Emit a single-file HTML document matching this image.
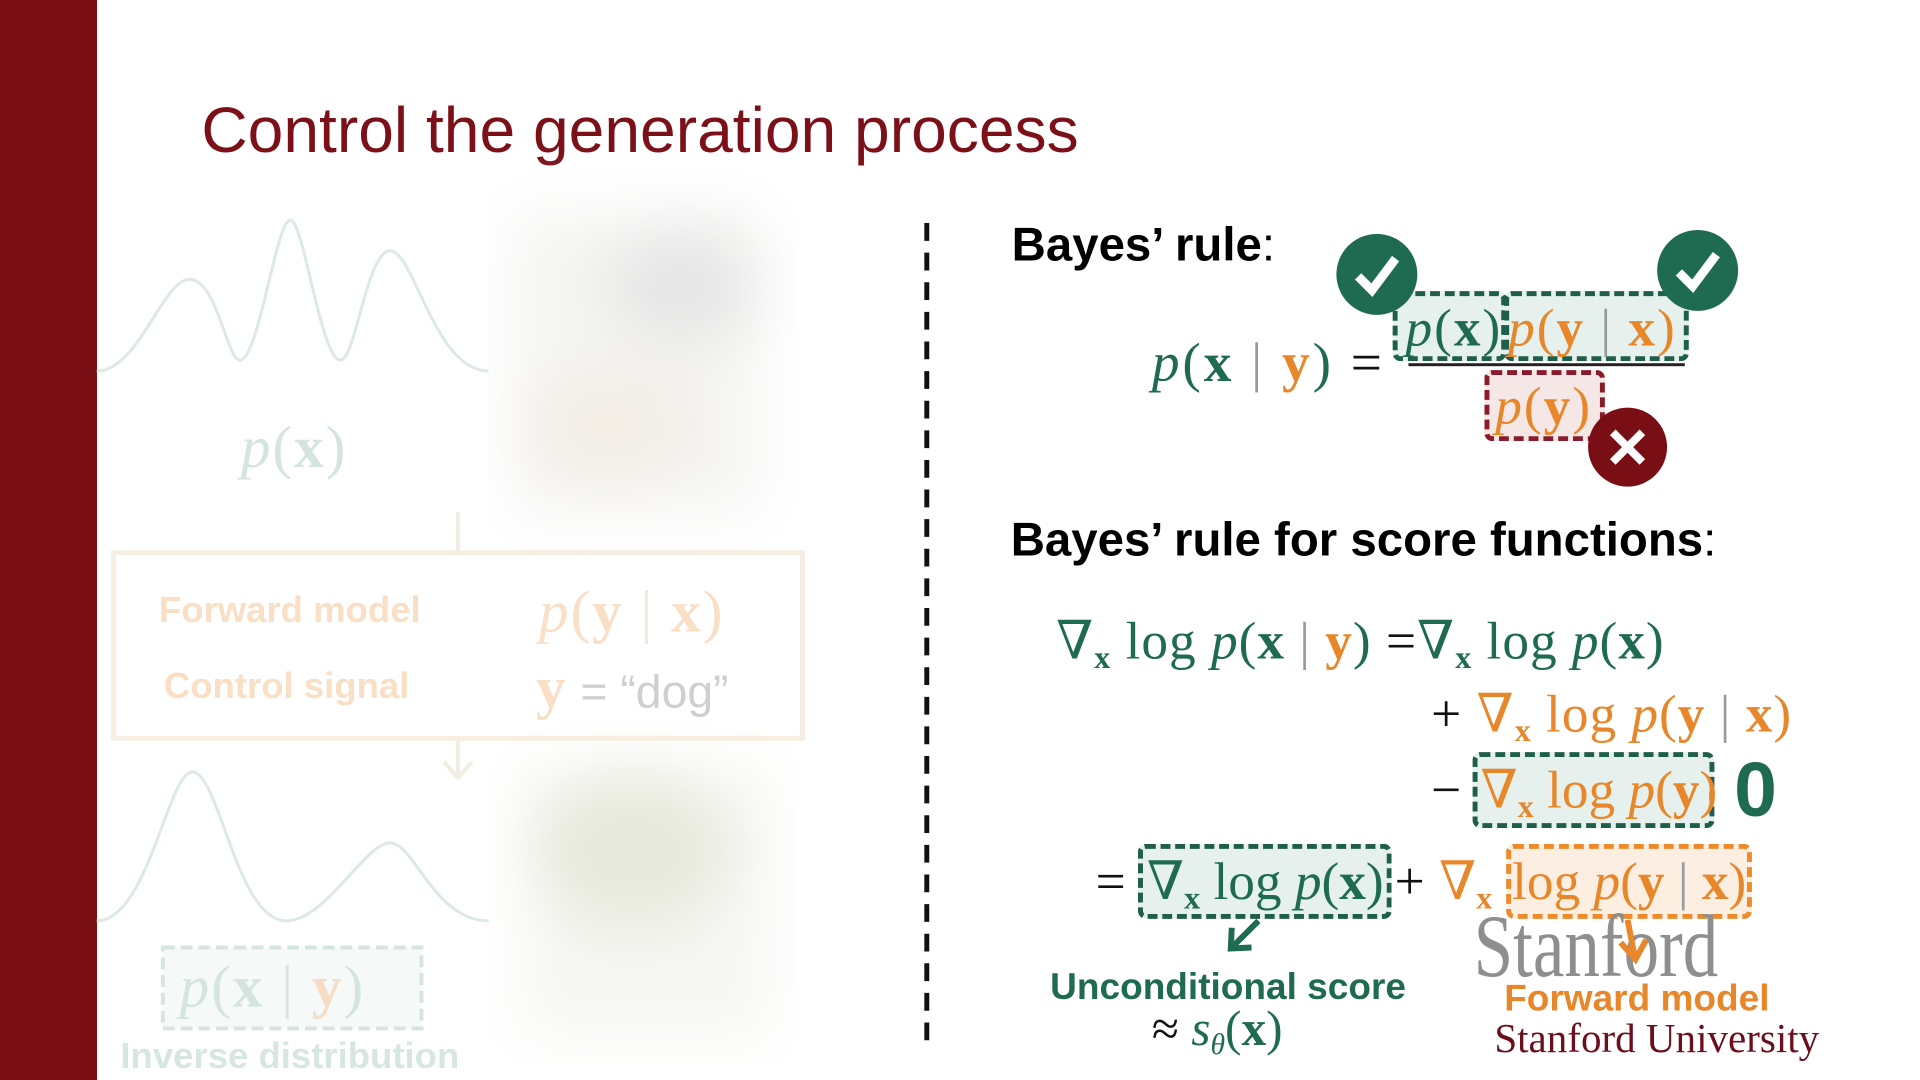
<!DOCTYPE html>
<html><head><meta charset="utf-8"><style>
html,body{margin:0;padding:0}
body{width:1920px;height:1080px;position:relative;background:#fff;overflow:hidden;font-family:"Liberation Sans",sans-serif}
#w{position:absolute;left:0;top:0;width:1920px;height:1080px;transform:scale(0.987);transform-origin:0 0}
.a{position:absolute;white-space:nowrap}
.m{font-family:"Liberation Serif","DejaVu Serif",serif;font-size:54px;line-height:60px}
.i{font-style:italic}
.b{font-weight:bold;font-style:normal}
.g{color:#1f6b52}.o{color:#e8862a}.k{color:#111}
sub{font-size:0.6em;font-weight:bold;vertical-align:-0.3em;line-height:0}
.box{position:absolute;box-sizing:border-box;border-radius:8px}
.gb{border:5px dashed #1f5e4a;background:#e6f0ec}
.ob{border:5px dashed #ee8a2a;background:#fcefe2}
.rb{border:5px dashed #8b1a2b;background:#f6e7e7}
.bar{color:#999;font-weight:normal}
</style></head><body>
<div class="a" style="left:0;top:0;width:97px;height:1080px;background:#7a0e15"></div>
<div id="w">
<div class="a" style="left:204px;top:97px;font-size:65px;color:#7b1018;line-height:70px">Control the generation process</div>

<!-- left faded -->
<svg class="a" style="left:0;top:0" width="940" height="1080">
<defs><filter id="bl"><feGaussianBlur stdDeviation="30"/></filter></defs>
<g filter="url(#bl)">
<rect x="520" y="215" width="250" height="305" fill="#f5f5f3"/>
<ellipse cx="690" cy="290" rx="80" ry="60" fill="#e6e6e6"/>
<ellipse cx="620" cy="430" rx="90" ry="55" fill="#f2ede5"/>
<rect x="530" y="780" width="250" height="270" fill="#f6f6f3"/>
<ellipse cx="640" cy="860" rx="100" ry="80" fill="#e7e9dc"/>
</g>
<path d="M98,376 C140,376 165,283 192,283 C220,283 230,365 243,365 C262,365 280,223 294,223 C308,223 325,365 345,365 C360,365 372,254 395,254 C420,254 440,376 495,376" fill="none" stroke="#dce9e4" stroke-width="3"/>
<path d="M98,933 C150,933 170,782 195,782 C222,782 240,933 290,933 C330,933 370,854 395,854 C420,854 440,933 495,933" fill="none" stroke="#dce9e4" stroke-width="3"/>
<line x1="464" y1="519" x2="464" y2="560" stroke="#f1ede0" stroke-width="4"/>
<line x1="464" y1="748" x2="464" y2="785" stroke="#f1ede0" stroke-width="4"/>
<path d="M450,772 L464,788 L478,772" fill="none" stroke="#f1ede0" stroke-width="4"/>
<rect x="115" y="560" width="698" height="188" fill="none" stroke="#f6efe1" stroke-width="5"/>
<rect x="165" y="960" width="262" height="82" fill="#f5f9f8" stroke="#d7e5df" stroke-width="4" stroke-dasharray="12,6"/>
</svg>
<div class="a" style="left:161px;top:597px;font-size:37px;font-weight:bold;color:#f8dfc5;line-height:42px">Forward model</div>
<div class="a" style="left:166px;top:674px;font-size:37px;font-weight:bold;color:#f8dfc5;line-height:42px">Control signal</div>
<div class="a m" style="left:546px;top:588px;font-size:60px;line-height:64px;color:#f8dfc5;letter-spacing:2px"><span class="i">p</span>(<span class="b">y</span> <span style="color:#f3e8dc">|</span> <span class="b">x</span>)</div>
<div class="a m" style="left:543px;top:665px;font-size:60px;line-height:64px;color:#f8dfc5"><span class="b">y</span> <span style="font-family:'Liberation Sans';font-size:47px;color:#cfcfcf">= “dog”</span></div>
<div class="a m" style="left:244px;top:421px;font-size:60px;line-height:64px;color:#d4e4de;letter-spacing:2px"><span class="i">p</span>(<span class="b">x</span>)</div>
<div class="a m" style="left:182px;top:968px;font-size:60px;line-height:64px;color:#d4e4de;letter-spacing:2px"><span class="i">p</span>(<span class="b">x</span> | <span class="b" style="color:#f5dcc4">y</span>)</div>
<div class="a" style="left:122px;top:1049px;font-size:37px;font-weight:bold;color:#d6e6e0;line-height:42px">Inverse distribution</div>

<!-- divider -->
<svg class="a" style="left:0;top:0" width="1920" height="1080">
<line x1="939" y1="226" x2="939" y2="1062" stroke="#111" stroke-width="5" stroke-dasharray="18,12"/>
</svg>

<!-- Bayes rule -->
<div class="a" style="left:1025px;top:222px;font-size:48px;font-weight:bold;color:#000;line-height:54px">Bayes’ rule<span style="font-weight:normal">:</span></div>
<div class="a m" style="left:1167px;top:338px;font-size:56px;letter-spacing:3px"><span class="g"><span class="i">p</span>(<span class="b">x</span> <span class="bar">|</span> <span class="b o">y</span>)</span> <span class="k">=</span></div>
<div class="box gb" style="left:1411px;top:295px;width:115px;height:71px"></div>
<div class="box gb" style="left:1524px;top:295px;width:187px;height:71px"></div>
<div class="a m g" style="left:1424px;top:302px;letter-spacing:2px"><span class="i">p</span>(<span class="b">x</span>)</div>
<div class="a m o" style="left:1528px;top:302px;letter-spacing:2px"><span class="i">p</span>(<span class="b">y</span> <span class="bar">|</span> <span class="b">x</span>)</div>
<div class="a" style="left:1427px;top:368px;width:280px;height:3px;background:#222"></div>
<div class="box rb" style="left:1504px;top:375px;width:122px;height:72px"></div>
<div class="a m o" style="left:1515px;top:381px;letter-spacing:2px"><span class="i">p</span>(<span class="b">y</span>)</div>
<svg class="a" style="left:0;top:0" width="1920" height="1080">
<circle cx="1395" cy="278" r="41" fill="#1f6b52"/>
<path d="M1376,280 L1390,294 L1414,262" fill="none" stroke="#fff" stroke-width="9"/>
<circle cx="1720" cy="274" r="41" fill="#1f6b52"/>
<path d="M1701,276 L1715,290 L1739,258" fill="none" stroke="#fff" stroke-width="9"/>
<circle cx="1649" cy="453" r="40" fill="#7a0e15"/>
<path d="M1634,438 L1664,468 M1664,438 L1634,468" stroke="#fff" stroke-width="8"/>
<path d="M1275,933 L1250,958" stroke="#1f6b52" stroke-width="6"/>
<path d="M1248,940 L1247,961 L1268,960" fill="none" stroke="#1f6b52" stroke-width="6"/>
</svg>

<div class="a" style="left:1024px;top:521px;font-size:48px;font-weight:bold;color:#000;line-height:54px">Bayes’ rule for score functions<span style="font-weight:normal">:</span></div>

<!-- line1 -->
<div class="a m g" style="left:1070px;top:619px;letter-spacing:1px">∇<sub>x</sub> log <span class="i">p</span>(<span class="b">x</span> <span class="bar">|</span> <span class="b o">y</span>) <span class="k">=</span>∇<sub>x</sub> log <span class="i">p</span>(<span class="b">x</span>)</div>
<!-- line2 -->
<div class="a m" style="left:1450px;top:693px;letter-spacing:1px"><span class="k">+</span> <span class="o">∇<sub>x</sub> log <span class="i">p</span>(<span class="b">y</span> <span class="bar">|</span> <span class="b">x</span>)</span></div>
<!-- line3 -->
<div class="a m k" style="left:1450px;top:770px">−</div>
<div class="box gb" style="left:1492px;top:762px;width:245px;height:77px"></div>
<div class="a m o" style="left:1500px;top:770px">∇<sub>x</sub> log <span class="i">p</span>(<span class="b">y</span>)</div>
<div class="a" style="left:1757px;top:757px;font-size:78px;font-weight:bold;color:#1f6b52;line-height:86px">0</div>
<!-- line4 -->
<div class="a m k" style="left:1110px;top:863px">=</div>
<div class="box gb" style="left:1153px;top:855px;width:257px;height:76px"></div>
<div class="a m g" style="left:1162px;top:863px">∇<sub>x</sub> log <span class="i">p</span>(<span class="b">x</span>)</div>
<div class="a m k" style="left:1413px;top:863px">+</div>
<div class="a m o" style="left:1458px;top:863px">∇<sub>x</sub></div>
<div class="box ob" style="left:1526px;top:855px;width:249px;height:76px"></div>
<div class="a m o" style="left:1532px;top:863px">log <span class="i">p</span>(<span class="b">y</span> <span class="bar">|</span> <span class="b">x</span>)</div>

<!-- stanford logo -->
<div class="a" style="left:1493px;top:912px;font-family:'Liberation Serif',serif;font-size:90px;line-height:96px;color:#8e8e8e;transform:scaleX(0.8);transform-origin:left top">Stanford</div>
<svg class="a" style="left:0;top:0" width="1920" height="1080">
<path d="M1649,932 L1656,968" stroke="#e8862a" stroke-width="6"/>
<path d="M1642,955 L1657,972 L1668,952" fill="none" stroke="#e8862a" stroke-width="6"/>
</svg>
<div class="a" style="left:1524px;top:990px;font-size:37.5px;font-weight:bold;color:#e8862a;line-height:42px">Forward model</div>
<div class="a" style="left:1514px;top:1030px;font-family:'Liberation Serif',serif;font-size:42px;line-height:46px;color:#6b0f1e;transform:scaleX(0.99);transform-origin:left top">Stanford University</div>

<div class="a" style="left:1064px;top:978px;font-size:37.5px;font-weight:bold;color:#1f6b52;line-height:42px">Unconditional score</div>
<div class="a m" style="left:1167px;top:1012px;font-size:50px"><span class="k">≈</span> <span class="g"><span class="i">s<sub style="font-weight:normal;font-style:italic">θ</sub></span>(<span class="b">x</span>)</span></div>
</div>
</body></html>
